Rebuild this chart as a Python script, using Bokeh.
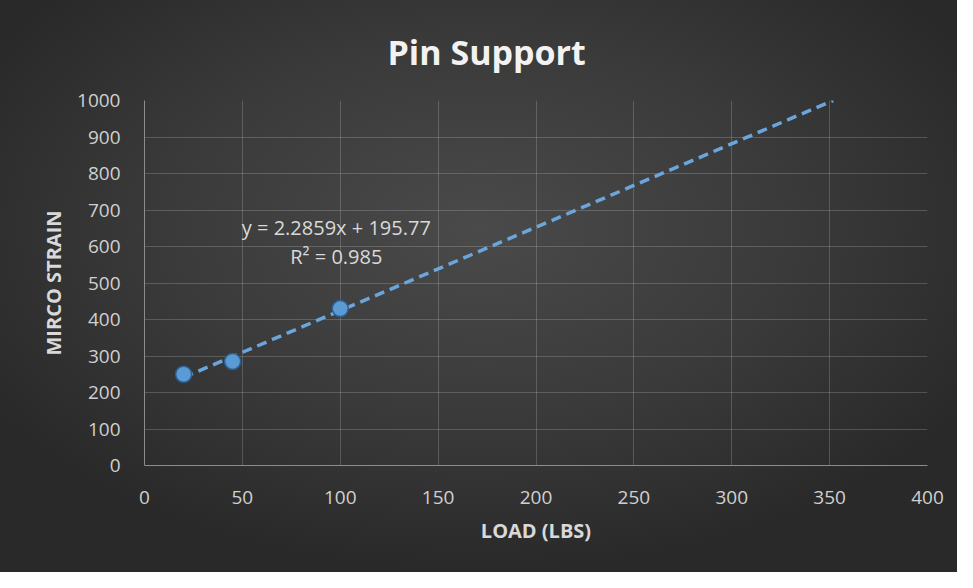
from bokeh.plotting import figure
from bokeh.models import ColumnDataSource, FixedTicker
from bokeh.core.properties import value
from bokeh.embed import file_html
from bokeh.resources import INLINE

# data
load_lbs = [20, 45, 100]
micro_strain = [250, 285, 430]
slope = 2.2859
intercept = 195.77
r_squared = 0.985
x_ticks = [0, 50, 100, 150, 200, 250, 300, 350, 400]
y_ticks = [0, 100, 200, 300, 400, 500, 600, 700, 800, 900, 1000]

x_max, y_max = 400, 1000
FONT = "Open Sans"

p = figure(width=957, height=572, output_backend="svg", toolbar_location=None,
           x_range=(0, x_max), y_range=(0, y_max),
           min_border_left=144, min_border_right=30, min_border_top=100, min_border_bottom=107,
           title="Pin Support",
           styles={"background": "radial-gradient(ellipse 60% 60% at 50% 40%, #4a4a4a 0%, #3a3a3a 55%, #292929 100%)"})
p.background_fill_alpha = 0
p.border_fill_alpha = 0
p.outline_line_color = None

p.title.align = "left"
p.title.offset = 243
p.title.text_font = FONT
p.title.text_font_size = "34px"
p.title.text_font_style = "bold"
p.title.text_color = "#f2f2f2"
p.title.standoff = 52

for ax in (p.xaxis, p.yaxis):
    ax.major_tick_line_color = None
    ax.minor_tick_line_color = None
    ax.axis_line_color = "#8c8c8c"
    ax.major_label_text_font = FONT
    ax.major_label_text_font_size = "19px"
    ax.major_label_text_color = "#d0d0d0"
    ax.axis_label_text_font = FONT
    ax.axis_label_text_font_size = "20px"
    ax.axis_label_text_font_style = "bold"
    ax.axis_label_text_color = "#d9d9d9"

p.xaxis.ticker = FixedTicker(ticks=x_ticks)
p.yaxis.ticker = FixedTicker(ticks=y_ticks)
p.xaxis.axis_label = "LOAD (LBS)"
p.yaxis.axis_label = "MIRCO STRAIN"
p.xaxis.major_label_standoff = 19
p.yaxis.major_label_standoff = 18
p.xaxis.axis_label_standoff = 10
p.yaxis.axis_label_standoff = 7

p.grid.grid_line_color = "#d9d9d9"
p.grid.grid_line_alpha = 0.22

# trendline (linear fit, forecast forward until it leaves the value axis)
x0 = min(load_lbs)
x1 = (y_max - intercept) / slope
p.line([x0, x1], [slope * x0 + intercept, slope * x1 + intercept],
       line_color="#6aa6dc", line_width=3.5, line_dash="10 6")

src = ColumnDataSource(dict(x=load_lbs, y=micro_strain))
p.scatter("x", "y", source=src, size=16, fill_color="#5b9bd5",
          line_color="#2e5f8f", line_width=1.5)

p.text(x=[98, 98], y=[652, 572],
       text=[f"y = {slope}x + {intercept}", f"R\u00b2 = {r_squared}"],
       text_font=value(FONT), text_font_size="20px", text_color="#d9d9d9",
       text_align="center", text_baseline="middle")

open("out.html", "w").write(file_html(p, INLINE))
